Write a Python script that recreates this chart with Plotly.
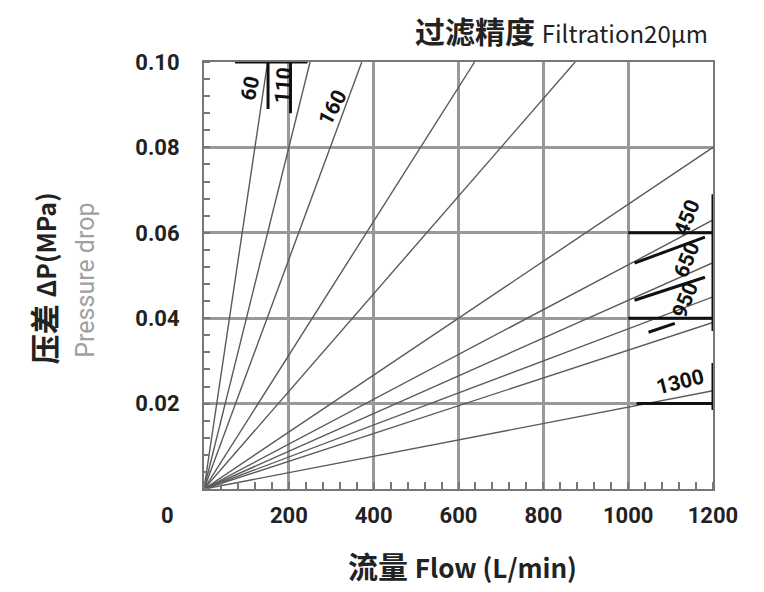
import plotly.graph_objects as go

# Line endpoints (flow L/min, pressure drop MPa) — each line starts at origin
end_flow = [150, 250, 372, 638, 875, 1200, 1200, 1200, 1200, 1200, 1200]
end_dp = [0.10, 0.10, 0.10, 0.10, 0.10, 0.080, 0.063, 0.053, 0.045, 0.039, 0.023]

# Model labels placed near their lines
label_text = ["60", "110", "160", "450", "650", "950", "1300"]
label_flow = [109, 187, 303, 1138, 1138, 1134, 1122]
label_dp = [0.0939, 0.0946, 0.0892, 0.0635, 0.0536, 0.0443, 0.0251]
label_angle = [-78, -85, -62, -68, -68, -68, -14]

# Thick leader strokes (x0, y0, x1, y1)
leader_x0 = [73, 151, 204, 1000, 1000, 1015, 1015, 1048, 1200, 1020, 1200]
leader_y0 = [0.100, 0.100, 0.100, 0.060, 0.040, 0.0529, 0.0442, 0.0367, 0.069, 0.020, 0.0185]
leader_x1 = [244, 151, 204, 1200, 1200, 1181, 1181, 1110, 1200, 1200, 1200]
leader_y1 = [0.100, 0.089, 0.088, 0.060, 0.040, 0.0590, 0.0496, 0.0388, 0.037, 0.020, 0.0295]

x_ticks = [200, 400, 600, 800, 1000, 1200]
y_ticks = [0.02, 0.04, 0.06, 0.08, 0.10]
y_ticktext = ["0.02", "0.04", "0.06", "0.08", "0.10"]

TICKFONT = dict(family="Roboto, sans-serif", size=22, color="#222", weight=700)
CJK = "Noto Sans CJK SC, Roboto, sans-serif"

fig = go.Figure()
for fx, dy in zip(end_flow, end_dp):
    fig.add_trace(go.Scatter(x=[0, fx], y=[0, dy], mode="lines",
                             line=dict(color="#5a5a5a", width=1.4),
                             showlegend=False, hoverinfo="skip"))

shapes = []
for x0, y0, x1, y1 in zip(leader_x0, leader_y0, leader_x1, leader_y1):
    shapes.append(dict(type="line", xref="x", yref="y", x0=x0, y0=y0, x1=x1, y1=y1,
                       line=dict(color="#111", width=3)))

annotations = []
for t, fx, dy, a in zip(label_text, label_flow, label_dp, label_angle):
    annotations.append(dict(x=fx, y=dy, xref="x", yref="y", text=t, showarrow=False,
                            textangle=a,
                            font=dict(family="Roboto, sans-serif", size=21, color="#111", weight=700)))

annotations += [
    dict(x=0, y=0, xref="x", yref="y", text="0", showarrow=False,
         xshift=-37, yshift=-26, font=TICKFONT),
    dict(x=0.995, y=1.075, xref="paper", yref="paper", xanchor="right", yanchor="middle",
         text="<b>过滤精度</b> <span style='font-size:24px'>Filtration20μm</span>",
         showarrow=False,
         font=dict(family=CJK, size=30, color="#222")),
    dict(x=0.507, y=-0.178, xref="paper", yref="paper", xanchor="center", yanchor="middle",
         text="<b>流量</b> <b><span style='font-size:26px'>Flow (L/min)</span></b>", showarrow=False,
         font=dict(family=CJK, size=30, color="#222")),
    dict(x=-0.316, y=0.494, xref="paper", yref="paper", xanchor="center", yanchor="middle",
         text="<b>压差</b> <b><span style='font-size:25px'>ΔP(MPa)</span></b>", showarrow=False, textangle=-90,
         font=dict(family=CJK, size=30, color="#222")),
    dict(x=-0.232, y=0.49, xref="paper", yref="paper", xanchor="center", yanchor="middle",
         text="Pressure drop", showarrow=False, textangle=-90,
         font=dict(family="Roboto, sans-serif", size=25, color="#a0a0a0")),
]

# Page body has an 8px margin: shrink figure so the plot area lands where the reference has it
fig.update_layout(
    width=756, height=584,
    margin=dict(l=196, r=51, t=54, b=103),
    paper_bgcolor="white", plot_bgcolor="white",
    shapes=shapes, annotations=annotations,
    xaxis=dict(range=[0, 1200], tickvals=x_ticks, ticktext=[str(v) for v in x_ticks],
               automargin=False,
               showgrid=True, gridcolor="#999", gridwidth=2.5,
               showline=True, linecolor="#777", linewidth=2, mirror=True,
               ticks="", tickfont=TICKFONT, ticklabelstandoff=6, zeroline=False,
               minor=dict(ticks="inside", dtick=40, tick0=0, ticklen=7, tickcolor="#777",
                          tickwidth=1.5, showgrid=False)),
    yaxis=dict(range=[0, 0.1], tickvals=y_ticks, ticktext=y_ticktext,
               automargin=False,
               showgrid=True, gridcolor="#999", gridwidth=2.5,
               showline=True, linecolor="#777", linewidth=2, mirror=True,
               ticks="", tickfont=TICKFONT, ticklabelstandoff=18, zeroline=False,
               minor=dict(ticks="inside", dtick=0.004, tick0=0, ticklen=6, tickcolor="#777",
                          tickwidth=1.5, showgrid=False)),
)

fig.write_html("out.html")
